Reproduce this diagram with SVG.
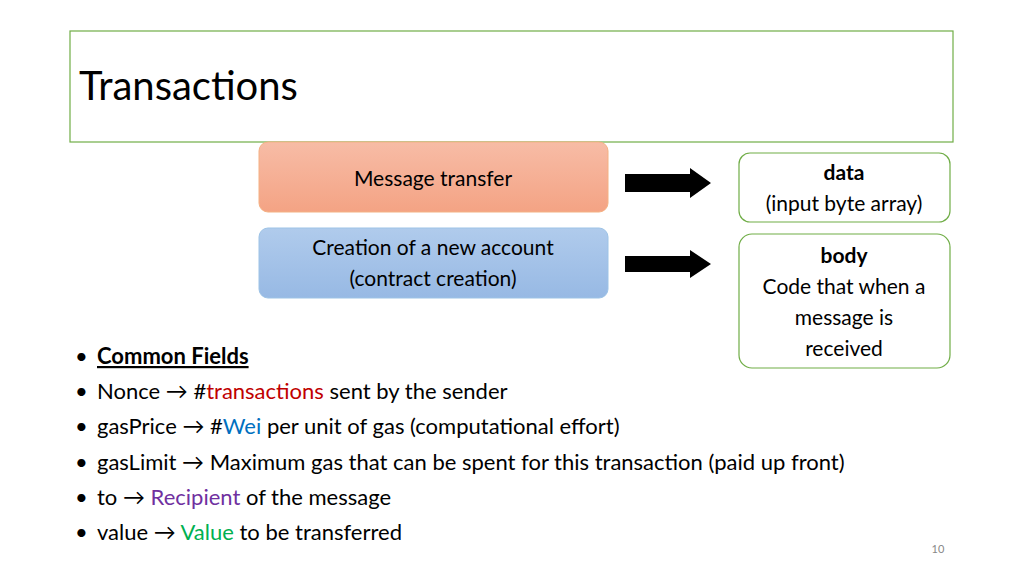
<svg xmlns="http://www.w3.org/2000/svg" width="1024" height="576" viewBox="0 0 1024 576">
<defs>
<style>
text{font-family:Lato,"Open Sans",sans-serif;fill:#000}
.n{font-size:21px;text-anchor:middle}
.b{font-size:22px}
.box{fill:#fff;stroke:#70ad47;stroke-width:1.2}
</style>
<linearGradient id="og" x1="0" y1="0" x2="0" y2="1"><stop offset="0" stop-color="#f7bca6"/><stop offset="1" stop-color="#f4a384"/></linearGradient>
<linearGradient id="bg" x1="0" y1="0" x2="0" y2="1"><stop offset="0" stop-color="#b0cbec"/><stop offset="1" stop-color="#97b9e4"/></linearGradient>
</defs>
<rect width="1024" height="576" fill="#fff"/>
<rect x="70" y="31" width="883" height="111" fill="#fff" stroke="#70ad47" stroke-width="1.2"/>
<text x="79" y="100" font-size="40">Transactions</text>
<g id="msg"><rect x="259" y="142" width="349" height="70" rx="9" fill="url(#og)" stroke="#f4b183"/><text class="n" x="433" y="186">Message transfer</text></g>
<g id="create"><rect x="259" y="228" width="349" height="70" rx="9" fill="url(#bg)" stroke="#9dc3e6"/><text class="n" x="433" y="255">Creation of a new account</text><text class="n" x="433" y="286">(contract creation)</text></g>
<g id="data"><rect class="box" x="739" y="153" width="211" height="69" rx="11"/><text class="n" x="844" y="180" font-weight="bold">data</text><text class="n" x="844" y="211">(input byte array)</text></g>
<g id="body"><rect class="box" x="739" y="234" width="211" height="134" rx="13"/><text class="n" x="844" y="263" font-weight="bold">body</text><text class="n" x="844" y="294">Code that when a</text><text class="n" x="844" y="325">message is</text><text class="n" x="844" y="356">received</text></g>
<g id="connectors" fill="#000">
<polygon points="625,174 690,174 690,168 711,183 690,198 690,192 625,192"/>
<polygon points="625,256 690,256 690,250 711,264 690,278 690,272 625,272"/>
</g>
<g class="b">
<g font-size="22">
<text x="75" y="364">•</text><text x="97" y="364" font-weight="bold" text-decoration="underline" font-size="22">Common Fields</text>
<text x="75" y="399">•</text><text x="97" y="399" font-size="22">Nonce → #<tspan fill="#c00000">transactions</tspan> sent by the sender</text>
<text x="75" y="434">•</text><text x="97" y="434" font-size="22">gasPrice → #<tspan fill="#0070c0">Wei</tspan> per unit of gas (computational effort)</text>
<text x="75" y="470">•</text><text x="97" y="470" font-size="22">gasLimit → Maximum gas that can be spent for this transaction (paid up front)</text>
<text x="75" y="505">•</text><text x="97" y="505" font-size="22">to → <tspan fill="#7030a0">Recipient</tspan> of the message</text>
<text x="75" y="540">•</text><text x="97" y="540" font-size="22">value → <tspan fill="#00b050">Value</tspan> to be transferred</text>
</g>
</g>
<text x="938" y="553" font-size="11" fill="#888" text-anchor="middle" style="fill:#888">10</text>
</svg>
